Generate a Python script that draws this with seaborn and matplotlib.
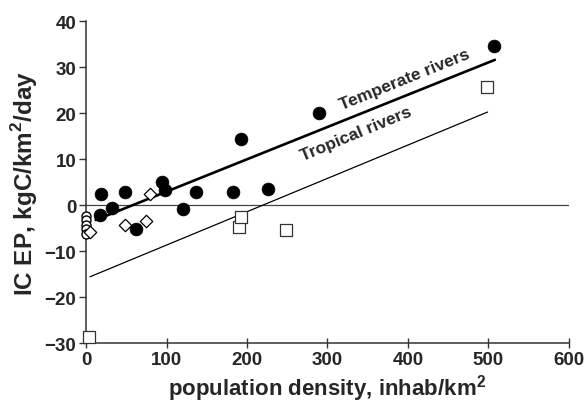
import matplotlib
matplotlib.use('Agg')
import matplotlib.pyplot as plt
import seaborn as sns
import numpy as np
import pandas as pd

sns.set_style('ticks')
plt.rcParams['font.family'] = ['Liberation Sans', 'DejaVu Sans']
plt.rcParams['font.weight'] = 'bold'
plt.rcParams['mathtext.fontset'] = 'custom'
plt.rcParams['mathtext.bf'] = 'Liberation Sans:bold'
plt.rcParams['mathtext.rm'] = 'Liberation Sans:bold'

# temperate rivers (filled circles)
temp_x = [18, 17, 32, 48, 94, 98, 62, 137, 120, 183, 226, 193, 290, 507]
temp_y = [2.4, -2.2, -0.7, 2.9, 5.1, 3.3, -5.2, 2.9, -0.9, 2.8, 3.4, 14.3,
          20.0, 34.6]

# open circles near zero density
circ_x = [0, 0, 0, 0, 0]
circ_y = [-2.3, -3.3, -4.3, -5.3, -6.2]

# open diamonds
diam_x = [5, 48, 74, 79]
diam_y = [-5.8, -4.3, -3.4, 2.5]

# tropical rivers (open squares)
sq_x = [4, 190, 192, 248, 498]
sq_y = [-28.8, -4.8, -2.7, -5.4, 25.7]

# regression lines: slope, intercept, x range
temp_fit = (0.0702, -4.1)
temp_range = [12, 508]
trop_fit = (0.0725, -15.96)
trop_range = [5, 499]

xticks = [0, 100, 200, 300, 400, 500, 600]
yticks = [-30, -20, -10, 0, 10, 20, 30, 40]

fig = plt.figure(figsize=(5.86, 4.06), dpi=100)
ax = fig.add_axes([0.1468, 0.1527, 0.824, 0.793])

ax.axhline(0, color='#444444', lw=0.9, zorder=1)

for (m, b), xr, lw in [(temp_fit, temp_range, 1.9), (trop_fit, trop_range, 0.9)]:
    xs = np.array(xr)
    ax.plot(xs, m * xs + b, color='black', lw=lw, zorder=2)

df_t = pd.DataFrame({'x': temp_x, 'y': temp_y})
df_c = pd.DataFrame({'x': circ_x, 'y': circ_y})
df_d = pd.DataFrame({'x': diam_x, 'y': diam_y})
df_s = pd.DataFrame({'x': sq_x, 'y': sq_y})

sns.scatterplot(data=df_t, x='x', y='y', ax=ax, marker='o', s=85,
                color='black', edgecolor='black', linewidth=0.5, zorder=3,
                clip_on=False)
sns.scatterplot(data=df_c, x='x', y='y', ax=ax, marker='o', s=42,
                facecolor='white', edgecolor='black', linewidth=1.0,
                zorder=3, clip_on=False)
sns.scatterplot(data=df_d, x='x', y='y', ax=ax, marker='D', s=40,
                facecolor='white', edgecolor='black', linewidth=0.9,
                zorder=3, clip_on=False)
sns.scatterplot(data=df_s, x='x', y='y', ax=ax, marker='s', s=80,
                facecolor='white', edgecolor='#333333', linewidth=0.9,
                zorder=3, clip_on=False)

ax.text(396, 27.5, 'Temperate rivers', rotation=22, ha='center',
        va='center', fontsize=12.5, fontweight='bold')
ax.text(335, 15.6, 'Tropical rivers', rotation=22.5, ha='center',
        va='center', fontsize=12.5, fontweight='bold')

ax.set_xlim(0, 600)
ax.set_ylim(-30, 40)
ax.set_xticks(xticks)
ax.set_yticks(yticks)
ax.tick_params(axis='both', labelsize=13.5, width=1, length=5,
               color='#333333', pad=2)
ax.tick_params(axis='x', direction='inout', length=7)
for lab in ax.get_xticklabels() + ax.get_yticklabels():
    lab.set_fontweight('bold')

ax.set_xlabel(r'population density, inhab/km$^{\mathbf{2}}$',
              fontsize=16, fontweight='bold', labelpad=3)
ax.set_ylabel(r'IC EP, kgC/km$^{\mathbf{2}}$/day', fontsize=17.5,
              fontweight='bold', labelpad=3)

sns.despine(ax=ax)
for sp in ['left', 'bottom']:
    ax.spines[sp].set_color('#333333')
    ax.spines[sp].set_linewidth(1.1)

fig.savefig('out.png', dpi=100)
